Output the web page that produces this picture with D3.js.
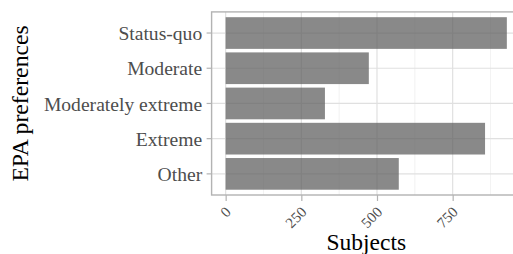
<!DOCTYPE html>
<meta charset="utf-8">
<html>
  <head>
    <script src="https://d3js.org/d3.v7.min.js"></script>
    <style>
      body { margin: 0; background: white; }
      text { font-family: "Liberation Serif", serif; }
    </style>
  </head>
  <body>
    <svg id="viz" width="513" height="254"></svg>
    <script>
    // categories top to bottom and subject counts
    const categories = ["Status-quo", "Moderate", "Moderately extreme", "Extreme", "Other"];
    const subjects = [929, 473, 328, 857, 572];
    const xTicks = [0, 250, 500, 750];
    const xMinor = [125, 375, 625, 875];

    var svg = d3.select("#viz");

    var pLeft = 211.6, pRight = 520.9, pTop = 11.9, pBottom = 195;
    var maxV = d3.max(subjects);

    var x = d3.scaleLinear()
        .domain([-0.05 * maxV, maxV * 1.05])
        .range([pLeft, pRight]);

    var y = d3.scaleBand()
        .domain(categories)
        .range([pTop, pBottom])
        .paddingInner(0.1)
        .paddingOuter(0.15);

    // grid
    var grid = svg.append("g");
    grid.selectAll(".minor")
        .data(xMinor)
        .enter()
        .append("line")
        .attr("x1", d => x(d)).attr("x2", d => x(d))
        .attr("y1", pTop).attr("y2", pBottom)
        .style("stroke", "#ececec")
        .style("stroke-width", 0.7);
    grid.selectAll(".majorx")
        .data(xTicks)
        .enter()
        .append("line")
        .attr("x1", d => x(d)).attr("x2", d => x(d))
        .attr("y1", pTop).attr("y2", pBottom)
        .style("stroke", "#e0e0e0")
        .style("stroke-width", 1.2);
    grid.selectAll(".majory")
        .data(categories)
        .enter()
        .append("line")
        .attr("x1", pLeft).attr("x2", pRight)
        .attr("y1", d => y(d) + y.bandwidth() / 2)
        .attr("y2", d => y(d) + y.bandwidth() / 2)
        .style("stroke", "#e0e0e0")
        .style("stroke-width", 1.2);

    // bars
    svg.append("g")
        .selectAll("rect")
        .data(categories)
        .enter()
        .append("rect")
        .attr("x", x(0))
        .attr("y", d => y(d))
        .attr("width", (d, i) => x(subjects[i]) - x(0))
        .attr("height", y.bandwidth())
        .style("fill", "#5c5c5c")
        .style("fill-opacity", 0.72);

    // panel border
    svg.append("rect")
        .attr("x", pLeft).attr("y", pTop)
        .attr("width", pRight - pLeft).attr("height", pBottom - pTop)
        .style("fill", "none")
        .style("stroke", "#b3b3b3")
        .style("stroke-width", 1.4);

    // y axis
    var yAxis = d3.axisLeft(y).tickSize(5).tickPadding(4.4);
    var gy = svg.append("g")
        .attr("transform", "translate(" + pLeft + ",0)")
        .call(yAxis);
    gy.select(".domain").remove();
    gy.selectAll("line").style("stroke", "#b3b3b3").style("stroke-width", 1.2);
    gy.selectAll("text")
        .attr("dy", "0.36em")
        .style("font-family", "Liberation Serif")
        .style("font-size", "19.6px")
        .style("fill", "#4d4d4d");

    // x axis
    var xAxis = d3.axisBottom(x).tickValues(xTicks).tickSize(6).tickPadding(2);
    var gx = svg.append("g")
        .attr("transform", "translate(0," + pBottom + ")")
        .call(xAxis);
    gx.select(".domain").remove();
    gx.selectAll("line").style("stroke", "#b3b3b3").style("stroke-width", 1.2);
    gx.selectAll("text")
        .attr("y", 0)
        .attr("dy", 0)
        .attr("text-anchor", "end")
        .attr("transform", "translate(5.7,18) rotate(-45)")
        .style("font-family", "Liberation Serif")
        .style("font-size", "15px")
        .style("fill", "#4d4d4d");

    // axis titles
    svg.append("text")
        .attr("x", (pLeft + pRight) / 2)
        .attr("y", 250)
        .attr("text-anchor", "middle")
        .style("font-size", "23.5px")
        .style("fill", "black")
        .text("Subjects");

    svg.append("text")
        .attr("transform", "translate(27.7," + (pTop + pBottom) / 2 + ") rotate(-90)")
        .attr("text-anchor", "middle")
        .style("font-size", "23.7px")
        .style("fill", "black")
        .text("EPA preferences");
    </script>
  </body>
</html>
